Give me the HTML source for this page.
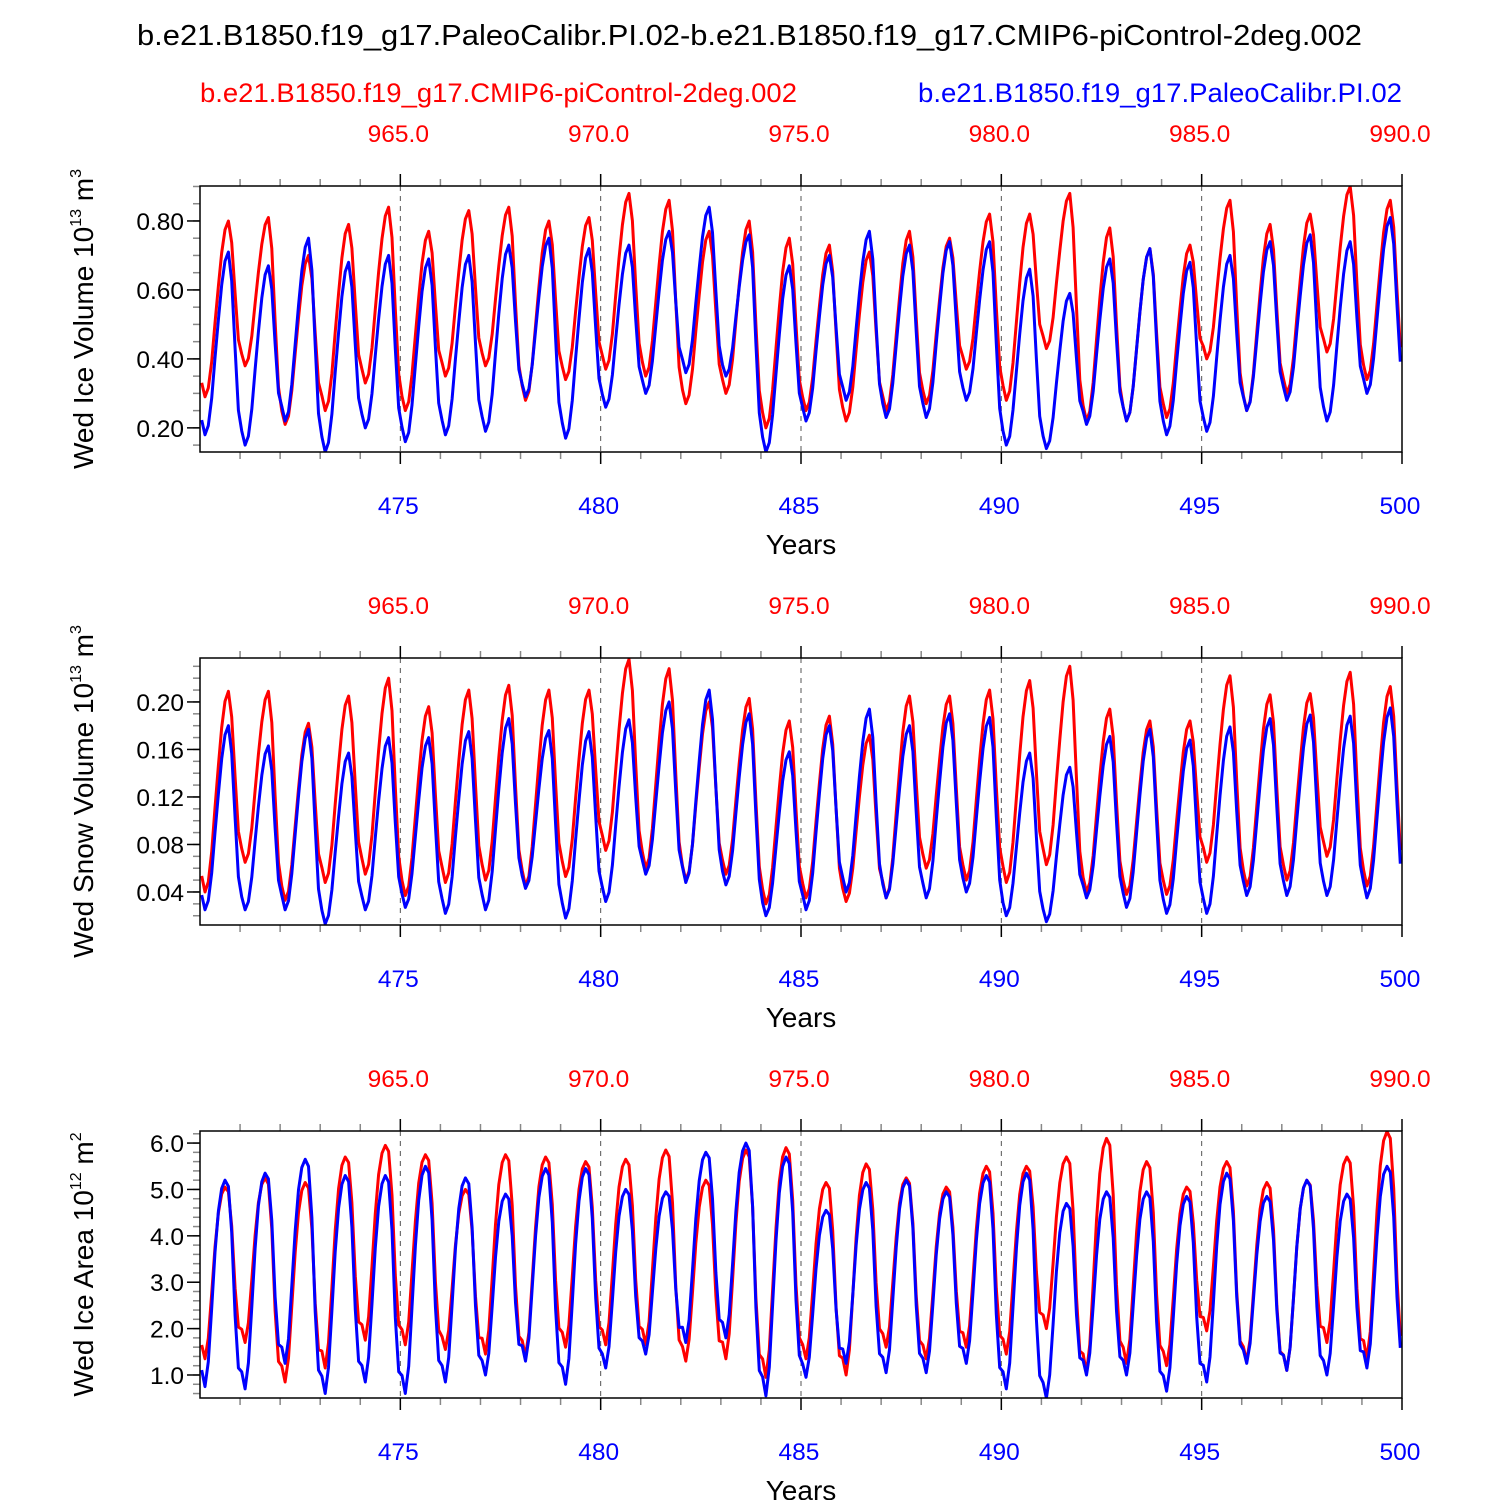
<!DOCTYPE html>
<html><head><meta charset="utf-8"><style>
html,body{margin:0;padding:0;background:#fff}
svg{display:block;font-family:"Liberation Sans",Arial,sans-serif}
</style></head><body>
<svg id="chart" width="1500" height="1500" viewBox="0 0 1500 1500">
<text x="137" y="45" font-size="29" textLength="1225" lengthAdjust="spacingAndGlyphs">b.e21.B1850.f19_g17.PaleoCalibr.PI.02-b.e21.B1850.f19_g17.CMIP6-piControl-2deg.002</text>
<text x="200" y="102" font-size="27" fill="#f00" textLength="597" lengthAdjust="spacingAndGlyphs">b.e21.B1850.f19_g17.CMIP6-piControl-2deg.002</text>
<text x="918" y="102" font-size="27" fill="#00f" textLength="484" lengthAdjust="spacingAndGlyphs">b.e21.B1850.f19_g17.PaleoCalibr.PI.02</text>
</svg>
<script>
// seasonal shape templates (Jan..Dec), 0 = trough, 1 = peak
const volShape=[0.08,0,0.05,0.2,0.42,0.63,0.82,0.95,1,0.85,0.5,0.18];
const areaShape=[0.08,0,0.12,0.38,0.65,0.85,0.96,1,0.97,0.75,0.35,0.1];
const years=[470,471,472,473,474,475,476,477,478,479,480,481,482,483,484,485,486,487,488,489,490,491,492,493,494,495,496,497,498,499];
const xTicks=[475,480,485,490,495,500];
const topTicks=["965.0","970.0","975.0","980.0","985.0","990.0"];

const iceBluePeak=[0.71,0.67,0.75,0.68,0.70,0.69,0.70,0.73,0.75,0.72,0.73,0.77,0.84,0.76,0.67,0.70,0.77,0.73,0.74,0.74,0.66,0.59,0.69,0.72,0.68,0.70,0.74,0.76,0.74,0.81];
const iceBlueLow=[0.18,0.15,0.22,0.13,0.20,0.16,0.18,0.19,0.29,0.17,0.26,0.30,0.36,0.35,0.13,0.22,0.28,0.23,0.23,0.28,0.15,0.14,0.21,0.22,0.18,0.19,0.25,0.28,0.22,0.30];
const iceRedPeak=[0.80,0.81,0.70,0.79,0.84,0.77,0.83,0.84,0.80,0.81,0.88,0.86,0.77,0.80,0.75,0.73,0.71,0.77,0.75,0.82,0.82,0.88,0.78,0.72,0.73,0.86,0.79,0.82,0.90,0.86];
const iceRedLow=[0.29,0.38,0.21,0.25,0.33,0.25,0.35,0.38,0.28,0.34,0.37,0.35,0.27,0.30,0.20,0.25,0.22,0.25,0.27,0.37,0.28,0.43,0.22,0.22,0.23,0.40,0.25,0.30,0.42,0.34];

const snowBluePeak=[0.18,0.163,0.177,0.157,0.17,0.17,0.175,0.186,0.176,0.175,0.185,0.20,0.21,0.19,0.158,0.18,0.194,0.18,0.19,0.187,0.157,0.145,0.171,0.177,0.168,0.179,0.186,0.189,0.188,0.195];
const snowBlueLow=[0.025,0.025,0.025,0.013,0.025,0.027,0.022,0.025,0.043,0.018,0.032,0.055,0.048,0.046,0.02,0.025,0.04,0.035,0.035,0.04,0.02,0.015,0.035,0.027,0.022,0.022,0.037,0.037,0.037,0.035];
const snowRedPeak=[0.209,0.209,0.182,0.205,0.22,0.196,0.21,0.214,0.21,0.21,0.236,0.228,0.2,0.203,0.184,0.188,0.172,0.205,0.205,0.21,0.218,0.23,0.194,0.184,0.184,0.222,0.206,0.207,0.225,0.213];
const snowRedLow=[0.04,0.065,0.033,0.048,0.055,0.037,0.048,0.05,0.045,0.053,0.075,0.06,0.05,0.055,0.03,0.035,0.032,0.035,0.06,0.05,0.048,0.063,0.04,0.038,0.038,0.065,0.045,0.05,0.07,0.045];

const areaBluePeak=[5.2,5.35,5.65,5.3,5.3,5.5,5.25,4.9,5.45,5.45,5.0,4.95,5.8,6.0,5.7,4.55,5.15,5.2,4.95,5.3,5.35,4.7,4.95,4.95,4.85,5.35,4.85,5.2,4.9,5.5];
const areaBlueLow=[0.75,0.7,1.25,0.6,0.85,0.6,0.85,1.0,1.3,0.8,1.15,1.45,1.7,1.8,0.55,0.95,1.25,1.05,1.05,1.25,0.7,0.5,1.0,1.0,0.65,0.85,1.25,1.1,1.0,1.15];
const areaRedPeak=[5.05,5.25,5.15,5.7,5.95,5.75,5.0,5.75,5.7,5.6,5.65,5.85,5.2,5.85,5.9,5.15,5.55,5.25,5.05,5.5,5.5,5.7,6.1,5.6,5.05,5.6,5.15,5.2,5.7,6.25];
const areaRedLow=[1.35,1.7,0.85,1.15,1.75,1.65,1.55,1.45,1.4,1.6,1.65,1.65,1.3,1.35,0.95,1.35,1.0,1.6,1.35,1.6,1.45,2.0,1.05,1.25,1.2,1.95,1.3,1.1,1.7,1.35];

const iceTicks=[0.2,0.4,0.6,0.8];
const snowTicks=[0.04,0.08,0.12,0.16,0.2];
const areaTicks=[1,2,3,4,5,6];

const svg=document.getElementById('chart');
const NS='http://www.w3.org/2000/svg';
function mk(tag,attrs,parent){const e=document.createElementNS(NS,tag);for(const k in attrs)e.setAttribute(k,attrs[k]);(parent||svg).appendChild(e);return e;}

const X0=200,X1=1402,YR0=470,YR1=500;
function xs(t){return X0+(t-YR0)*(X1-X0)/(YR1-YR0);}

function series(peak,low,shape){
  const out=[];
  for(let i=0;i<years.length;i++){
    const pk=shape.indexOf(1);
    const nextLow=i+1<low.length?low[i+1]:low[i];
    for(let m=0;m<12;m++){
      const lo=m>pk?nextLow:low[i];
      out.push([years[i]+(m+0.5)/12, lo+shape[m]*(peak[i]-lo)]);
    }
  }
  return out;
}

function panel(idx,top,bot,ymin,ymax,ticks,dec,minorStep,label1,sup1,sup2,sets,shape){
  const g=mk('g',{});
  
  
  const ys=v=>bot-(v-ymin)*(bot-top)/(ymax-ymin);
  const cid='clip'+idx;
  const cp=mk('clipPath',{id:cid},g);mk('rect',{x:X0,y:top,width:X1-X0,height:bot-top},cp);
  xTicks.forEach(t=>{if(t<YR1){const l=mk('line',{x1:xs(t),x2:xs(t),y1:top,y2:bot,stroke:'#555','stroke-width':1,'stroke-dasharray':'5,5'},g);
    
    }});
  for(let t=471;t<=500;t++){
    const maj=t%5===0;
    mk('line',{x1:xs(t),x2:xs(t),y1:top,y2:top-(maj?12:7),stroke:maj?'#000':'#888','stroke-width':1.5},g);
    mk('line',{x1:xs(t),x2:xs(t),y1:bot,y2:bot+(maj?12:7),stroke:maj?'#000':'#888','stroke-width':1.5},g);
  }
  xTicks.forEach((t,i)=>{
    const a=mk('text',{x:xs(t)-2,y:top-44,'font-size':24.5,fill:'#f00','text-anchor':'middle'},g);a.textContent=topTicks[i];
    
    
    const b=mk('text',{x:xs(t)-2,y:bot+62,'font-size':24.5,fill:'#00f','text-anchor':'middle'},g);b.textContent=t;
    
    
  });
  const xt=mk('text',{x:801,y:bot+102,'font-size':28,'text-anchor':'middle'},g);xt.textContent='Years';
  
  
  for(let v=Math.ceil(ymin/minorStep)*minorStep;v<=ymax+1e-9;v+=minorStep){
    mk('line',{x1:X0,x2:X0-7,y1:ys(v),y2:ys(v),stroke:'#888','stroke-width':1.5},g);
  }
  ticks.forEach(v=>{
    mk('line',{x1:X0,x2:X0-13,y1:ys(v),y2:ys(v),stroke:'#000','stroke-width':1.5},g);
    const t=mk('text',{x:X0-16,y:ys(v)+9,'font-size':24.5,'text-anchor':'end'},g);t.textContent=v.toFixed(dec);
    
    
  });
  const cy=(top+bot)/2;
  const yt=mk('text',{x:0,y:0,'font-size':28,'text-anchor':'middle',transform:`translate(93,${cy}) rotate(-90)`},g);
  
  
  yt.appendChild(document.createTextNode(label1+' 10'));
  const s1=mk('tspan',{'font-size':16,dy:-12},yt);s1.textContent=sup1;
  const s2=mk('tspan',{dy:12},yt);s2.textContent=' m';
  const s3=mk('tspan',{'font-size':16,dy:-12},yt);s3.textContent=sup2;
  sets.forEach(([pk,lo,col,name])=>{
    const pts=series(pk,lo,shape).map(p=>xs(p[0]).toFixed(1)+','+ys(p[1]).toFixed(1)).join(' ');
    const pl=mk('polyline',{points:pts,fill:'none',stroke:col,'stroke-width':3,'stroke-linejoin':'round','clip-path':`url(#${cid})`},g);
    
    
  });
  const box=mk('rect',{x:X0,y:top,width:X1-X0,height:bot-top,fill:'none',stroke:'#000','stroke-width':1.5},g);
  
  
}

panel(1,186,452,0.130,0.9014,iceTicks,2,0.05,'Wed Ice Volume','13','3',
  [[iceRedPeak,iceRedLow,'#f00','ice-volume-control-line'],[iceBluePeak,iceBlueLow,'#00f','ice-volume-paleo-line']],volShape);
panel(2,658,925,0.0122,0.237,snowTicks,2,0.01,'Wed Snow Volume','13','3',
  [[snowRedPeak,snowRedLow,'#f00','snow-volume-control-line'],[snowBluePeak,snowBlueLow,'#00f','snow-volume-paleo-line']],volShape);
panel(3,1131,1398,0.504,6.26,areaTicks,1,0.2,'Wed Ice Area','12','2',
  [[areaRedPeak,areaRedLow,'#f00','ice-area-control-line'],[areaBluePeak,areaBlueLow,'#00f','ice-area-paleo-line']],areaShape);
</script>
</body></html>
